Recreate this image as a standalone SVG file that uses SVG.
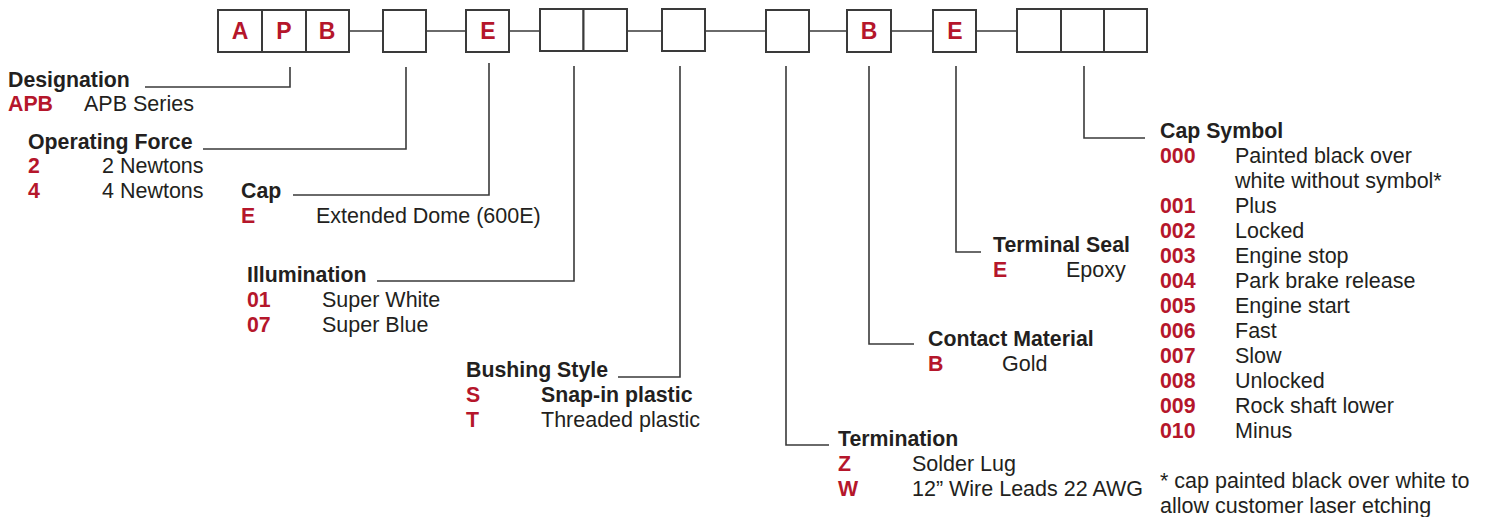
<svg xmlns="http://www.w3.org/2000/svg" width="1493" height="517" viewBox="0 0 1493 517">
<style>
text{font-family:"Liberation Sans",Arial,sans-serif;font-size:21.5px;fill:#231f20}
.h{font-weight:bold;font-size:21.3px}
.r{font-weight:bold;fill:#b5162b;font-size:21.3px}
.bx{fill:#fff;stroke:#3a3a3a;stroke-width:2}
.bl{font-weight:bold;fill:#b5162b;font-size:23px;text-anchor:middle}
.ln{fill:none;stroke:#3a3a3a;stroke-width:1.6}
</style>
<rect width="1493" height="517" fill="#fff"/>
<g id="connectors">
<path class="ln" d="M348 31H383M426 31H466M509 31H540M627 31H662M705 31H766M809 31H847M891 31H933M976 31H1017"/>
<path class="ln" d="M290 67V87H145"/>
<path class="ln" d="M406 67V149H203"/>
<path class="ln" d="M489 63V195H293"/>
<path class="ln" d="M574 66V281H377"/>
<path class="ln" d="M680 66V377H618"/>
<path class="ln" d="M786 66V445H829"/>
<path class="ln" d="M869 66V344H914"/>
<path class="ln" d="M956 66V252H981"/>
<path class="ln" d="M1084 66V138H1145"/>
</g>
<g id="code-boxes">
<g id="box-A"><rect class="bx" x="218" y="10" width="44" height="42"/><text class="bl" x="240" y="39">A</text></g>
<g id="box-P"><rect class="bx" x="262" y="10" width="44" height="42"/><text class="bl" x="284" y="39">P</text></g>
<g id="box-B1"><rect class="bx" x="306" y="10" width="43" height="42"/><text class="bl" x="327" y="39">B</text></g>
<g id="box-force"><rect class="bx" x="383" y="10" width="43" height="42"/></g>
<g id="box-E1"><rect class="bx" x="466" y="10" width="43" height="42"/><text class="bl" x="488" y="39">E</text></g>
<g id="box-illum1"><rect class="bx" x="540" y="9" width="43.5" height="42"/></g>
<g id="box-illum2"><rect class="bx" x="583.5" y="9" width="43.5" height="42"/></g>
<g id="box-bushing"><rect class="bx" x="662" y="9" width="43" height="42"/></g>
<g id="box-term"><rect class="bx" x="766" y="10" width="43" height="42"/></g>
<g id="box-B2"><rect class="bx" x="847" y="10" width="44" height="42"/><text class="bl" x="869" y="39">B</text></g>
<g id="box-E2"><rect class="bx" x="933" y="10" width="43" height="42"/><text class="bl" x="955" y="39">E</text></g>
<g id="box-sym1"><rect class="bx" x="1017" y="9" width="44" height="43"/></g>
<g id="box-sym2"><rect class="bx" x="1061" y="9" width="43" height="43"/></g>
<g id="box-sym3"><rect class="bx" x="1104" y="9" width="43" height="43"/></g>
</g>
<g id="designation">
<text class="h" x="8" y="87">Designation</text>
<text class="r" x="8" y="111">APB</text><text x="84" y="111">APB Series</text>
</g>
<g id="operating-force">
<text class="h" x="28" y="149">Operating Force</text>
<text class="r" x="28" y="173">2</text><text x="102" y="173">2 Newtons</text>
<text class="r" x="28" y="198">4</text><text x="102" y="198">4 Newtons</text>
</g>
<g id="cap">
<text class="h" x="241" y="198">Cap</text>
<text class="r" x="241" y="223">E</text><text x="316" y="223">Extended Dome (600E)</text>
</g>
<g id="illumination">
<text class="h" x="247" y="282">Illumination</text>
<text class="r" x="247" y="307">01</text><text x="322" y="307">Super White</text>
<text class="r" x="247" y="332">07</text><text x="322" y="332">Super Blue</text>
</g>
<g id="bushing-style">
<text class="h" x="466" y="377">Bushing Style</text>
<text class="r" x="466" y="402">S</text><text class="h" x="541" y="402">Snap-in plastic</text>
<text class="r" x="466" y="427">T</text><text x="541" y="427">Threaded plastic</text>
</g>
<g id="termination">
<text class="h" x="838" y="446">Termination</text>
<text class="r" x="838" y="471">Z</text><text x="912" y="471">Solder Lug</text>
<text class="r" x="838" y="496">W</text><text x="912" y="496">12” Wire Leads 22 AWG</text>
</g>
<g id="contact-material">
<text class="h" x="928" y="346">Contact Material</text>
<text class="r" x="928" y="371">B</text><text x="1002" y="371">Gold</text>
</g>
<g id="terminal-seal">
<text class="h" x="993" y="252">Terminal Seal</text>
<text class="r" x="993" y="277">E</text><text x="1066" y="277">Epoxy</text>
</g>
<g id="cap-symbol">
<text class="h" x="1160" y="138">Cap Symbol</text>
<text class="r" x="1160" y="163">000</text><text x="1235" y="163">Painted black over</text>
<text x="1235" y="188">white without symbol*</text>
<text class="r" x="1160" y="213">001</text><text x="1235" y="213">Plus</text>
<text class="r" x="1160" y="238">002</text><text x="1235" y="238">Locked</text>
<text class="r" x="1160" y="263">003</text><text x="1235" y="263">Engine stop</text>
<text class="r" x="1160" y="288">004</text><text x="1235" y="288">Park brake release</text>
<text class="r" x="1160" y="313">005</text><text x="1235" y="313">Engine start</text>
<text class="r" x="1160" y="338">006</text><text x="1235" y="338">Fast</text>
<text class="r" x="1160" y="363">007</text><text x="1235" y="363">Slow</text>
<text class="r" x="1160" y="388">008</text><text x="1235" y="388">Unlocked</text>
<text class="r" x="1160" y="413">009</text><text x="1235" y="413">Rock shaft lower</text>
<text class="r" x="1160" y="438">010</text><text x="1235" y="438">Minus</text>
<text x="1160" y="488">* cap painted black over white to</text>
<text x="1160" y="513">allow customer laser etching</text>
</g>
</svg>
